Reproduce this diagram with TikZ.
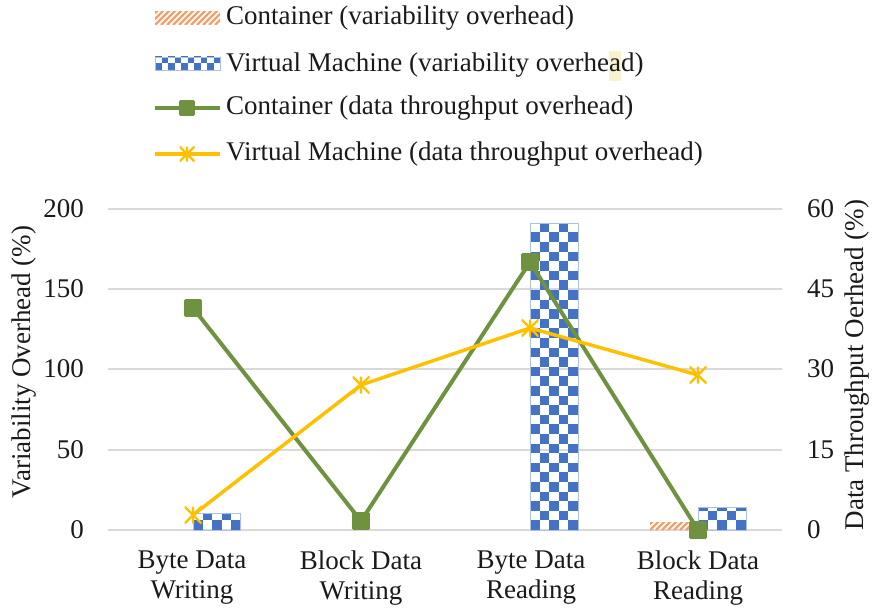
\documentclass[tikz,border=0pt]{standalone}
\usepackage{fontspec}
\setmainfont{Liberation Serif}
\definecolor{gridc}{HTML}{D9D9D9}
\definecolor{vmblue}{HTML}{4472C4}
\definecolor{ctorange}{HTML}{F4A06A}
\definecolor{ctgreen}{HTML}{6F9240}
\definecolor{vmyellow}{HTML}{FFC000}
\definecolor{hlyellow}{HTML}{F7F2D0}
\definecolor{textc}{HTML}{1A1A1A}

% checkered bar: #1 left, #2 right, #3 top, #4 bottom, #5 square size
\newcommand\checkbar[5]{%
  \begin{scope}
    \clip (#1,#3) rectangle (#2,#4);
    \pgfmathsetmacro\nrows{int(ceil((#4-#3)/#5))}
    \pgfmathsetmacro\ncols{int(ceil((#2-#1)/#5))}
    \foreach \i in {0,...,\nrows}{
      \pgfmathsetmacro\off{mod(\i,2)}
      \foreach \j in {0,2,...,\ncols}{
        \fill[vmblue] ({#1+(\j+\off)*#5},{#4-\i*#5}) rectangle ++(#5,-#5);
      }
    }
  \end{scope}
  \draw[vmblue!45,line width=0.8pt] (#1,#4) rectangle (#2,#3);
}
% hatched bar: #1 left, #2 right, #3 top, #4 bottom
\newcommand\hatchbar[4]{%
  \begin{scope}
    \clip (#1,#3) rectangle (#2,#4);
    \foreach \k in {-30,-24,...,90}{
      \draw[ctorange,line width=2.4pt] ({#1+\k},#4) -- ++(30,-30);
    }
  \end{scope}
}

\begin{document}
\begin{tikzpicture}[x=1pt,y=-1pt,
  font=\fontsize{27}{30}\selectfont, text=textc,
  gridline/.style={gridc,line width=1.3pt},
  lefttick/.style={anchor=east,inner sep=0pt},
  righttick/.style={anchor=west,inner sep=0pt},
  catlabel/.style={align=center,inner sep=0pt,font=\fontsize{27}{30}\selectfont},
  legtext/.style={anchor=west,inner sep=0pt},
  axtitle/.style={rotate=90,inner sep=0pt},
  greenline/.style={ctgreen,line width=4pt,line join=round},
  yellowline/.style={vmyellow,line width=3.5pt,line join=round},
  sqmark/.style={rectangle,fill=ctgreen,draw=ctgreen,line width=0.6pt,
    minimum size=17pt,inner sep=0pt,rounded corners=1pt},
  starmark/.style={rectangle,minimum size=17pt,inner sep=0pt,
    path picture={\draw[vmyellow,line width=2.2pt]
      (path picture bounding box.north) -- (path picture bounding box.south)
      (path picture bounding box.north west) -- (path picture bounding box.south east)
      (path picture bounding box.north east) -- (path picture bounding box.south west);}}
]
\useasboundingbox (0,0) rectangle (873,610);

% horizontal grid
\foreach \y in {209,289,369,450,530}{
  \draw[gridline] (108,\y) -- (782,\y);
}

% left tick labels
\node[lefttick] (l200) at (84,209) {200};
\node[lefttick] (l150) at (84,289) {150};
\node[lefttick] (l100) at (84,369) {100};
\node[lefttick] (l50)  at (84,450) {50};
\node[lefttick] (l0)   at (84,530) {0};
% right tick labels
\node[righttick] (r60) at (807,209) {60};
\node[righttick] (r45) at (807,289) {45};
\node[righttick] (r30) at (807,369) {30};
\node[righttick] (r15) at (807,450) {15};
\node[righttick] (r0)  at (807,530) {0};

% axis titles
\node[axtitle] (ytitle) at (24,362) {Variability Overhead (\%)};
\node[axtitle] (y2title) at (857,365) {Data Throughput Oerhead (\%)};

% category labels
\node[catlabel] (c1) at (192,578) {Byte Data\\Writing};
\node[catlabel] (c2) at (361,578) {Block Data\\Writing};
\node[catlabel] (c3) at (531,578) {Byte Data\\Reading};
\node[catlabel] (c4) at (698,578) {Block Data\\Reading};

% variability overhead bars
\checkbar{193}{240}{513}{530}{9.6}
\checkbar{530}{578}{223}{530}{9.6}
\hatchbar{650}{697}{522}{530}
\checkbar{698}{746}{507}{530}{9.6}

% data throughput overhead lines
\coordinate (g1) at (193,308);
\coordinate (g2) at (361,521);
\coordinate (g3) at (530,262);
\coordinate (g4) at (698,530);
\coordinate (y1) at (193,515);
\coordinate (y2) at (361,385);
\coordinate (y3) at (530,328);
\coordinate (y4) at (698,375);

\draw[greenline] (g1) -- (g2) -- (g3) -- (g4);
\foreach \p in {g1,g2,g3,g4}{ \node[sqmark] (m\p) at (\p) {}; }
\draw[yellowline] (y1) -- (y2) -- (y3) -- (y4);
\foreach \p in {y1,y2,y3,y4}{ \node[starmark] (m\p) at (\p) {}; }

% legend
\hatchbar{155}{220}{12}{25}
\node[legtext] (lg1) at (226,18) {Container (variability overhead)};
\checkbar{155}{220}{57}{70}{6.5}
\node[legtext] (lg2) at (226,66) {Virtual Machine (variability overhe{\setlength\fboxsep{0pt}\colorbox{hlyellow}{\strut a}}d)};
\coordinate (lgA) at (155,108);
\coordinate (lgB) at (220,108);
\draw[greenline] (lgA) -- (lgB);
\node[sqmark,minimum size=15pt] (lgm3) at (187,108) {};
\node[legtext] (lg3) at (226,108) {Container (data throughput overhead)};
\coordinate (lgC) at (155,154);
\coordinate (lgD) at (220,154);
\draw[yellowline] (lgC) -- (lgD);
\node[starmark,minimum size=15pt] (lgm4) at (187,154) {};
\node[legtext] (lg4) at (226,154) {Virtual Machine (data throughput overhead)};
\end{tikzpicture}
\end{document}
